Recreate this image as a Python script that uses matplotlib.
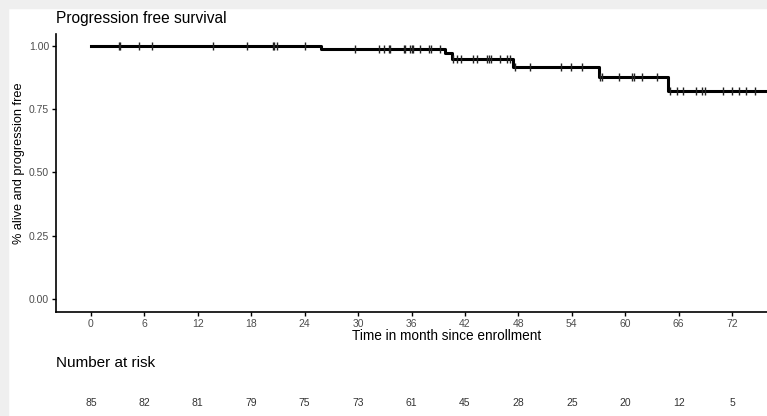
import numpy as np
import matplotlib.pyplot as plt
from matplotlib.patches import Rectangle
import matplotlib.transforms as mtransforms

plt.rcParams['font.family'] = ['Liberation Sans', 'DejaVu Sans']

# step changes of the survival curve (months) and level after each event
event_times = [25.8, 39.8, 40.5, 47.4, 57.1, 64.8]
surv_levels = [0.988, 0.971, 0.947, 0.916, 0.877, 0.821]
last_time = 79.5

# censored observations (months)
censor_times = [3.1, 3.3, 5.4, 6.8, 13.7, 17.5, 20.4, 20.6, 20.9, 24.0,
                29.6, 32.3, 32.9, 33.5, 33.6, 35.1, 35.3, 35.8, 36.0, 36.2,
                37.0, 38.0, 38.2, 39.2,
                40.7, 41.1, 41.6, 42.9, 43.3, 44.5, 44.7, 44.9, 45.9, 46.7, 47.1,
                47.6, 49.3, 52.8, 53.9, 55.2,
                57.2, 57.4, 59.3, 60.8, 61.0, 61.9, 63.6,
                65.0, 65.8, 66.5, 68.0, 68.6, 69.0, 71.0, 72.0, 72.8, 73.6, 74.6, 76.5]

risk_times = [0, 6, 12, 18, 24, 30, 36, 42, 48, 54, 60, 66, 72]
at_risk = [85, 82, 81, 79, 75, 73, 61, 45, 28, 25, 20, 12, 5]

x_steps = [0] + event_times + [last_time]
y_steps = [1.0] + surv_levels + [surv_levels[-1]]

def surv_at(t):
    idx = np.searchsorted(event_times, t, side='right')
    return ([1.0] + surv_levels)[idx]

fig = plt.figure(figsize=(7.67, 4.16), dpi=100)

# screenshot border
fig.patches.append(Rectangle((0, 1 - 8 / 416), 1, 8 / 416, transform=fig.transFigure,
                             color='#efefef', zorder=0))
fig.patches.append(Rectangle((0, 0), 8 / 767, 1, transform=fig.transFigure,
                             color='#efefef', zorder=0))

ax = fig.add_axes([56 / 767, 1 - 312 / 416, (838 - 56) / 767, (312 - 34) / 416])
ax.step(x_steps, y_steps, where='post', color='black', lw=2.2)
ax.plot(censor_times, [surv_at(t) for t in censor_times], ls='none',
        marker='|', ms=6, mew=1.0, color='#222222')

ax.set_xlim(-3.93, 83.9)
ax.set_ylim(-0.051, 1.047)
ax.set_xticks(risk_times)
ax.set_yticks([0, 0.25, 0.5, 0.75, 1.0])
ax.set_yticklabels(['0.00', '0.25', '0.50', '0.75', '1.00'])
ax.tick_params(labelsize=7.5, colors='black', labelcolor='#4d4d4d', length=3, width=1, pad=2)
for s in ['top', 'right']:
    ax.spines[s].set_visible(False)
for s in ['left', 'bottom']:
    ax.spines[s].set_linewidth(1.2)

ax.set_xlabel('Time in month since enrollment', fontsize=9.8, labelpad=0)
ax.set_ylabel('% alive and progression free', fontsize=9.2)
ax.yaxis.set_label_coords(-0.04, 0.535)
ax.set_title('Progression free survival', fontsize=11.2, loc='left', x=0, pad=8)

fig.text(56 / 767, 1 - 363 / 416, 'Number at risk', fontsize=11, va='center', ha='left')
trans = mtransforms.blended_transform_factory(ax.transData, fig.transFigure)
for t, n in zip(risk_times, at_risk):
    fig.text(t, 1 - 403 / 416, str(n), transform=trans, fontsize=7.5,
             ha='center', va='center', color='#333333')

fig.savefig('out.png', dpi=100)
